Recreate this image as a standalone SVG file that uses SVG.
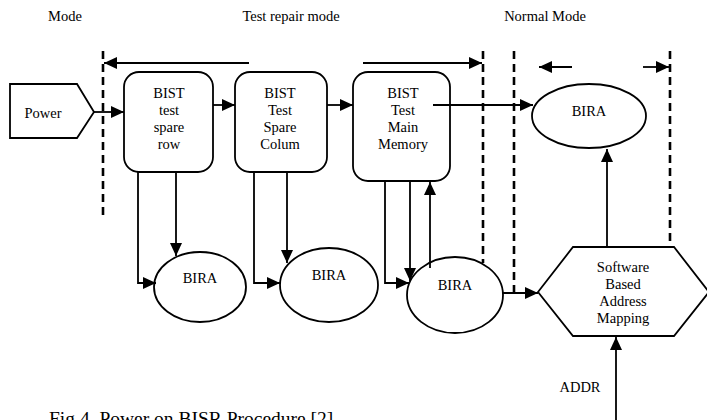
<svg xmlns="http://www.w3.org/2000/svg" width="707" height="420" viewBox="0 0 707 420" font-family="'Liberation Serif', 'Times New Roman', Times, serif">
<style>
text{font-family:"Liberation Serif","Times New Roman",Times,serif;font-size:14.5px;fill:#000;text-anchor:middle}
.s{fill:#fff;stroke:#000;stroke-width:1.8}
.c{fill:none;stroke:#000;stroke-width:1.8}
.d{fill:none;stroke:#000;stroke-width:2.6;stroke-dasharray:8 5}
</style>
<defs>
<marker id="a" markerUnits="userSpaceOnUse" markerWidth="14" markerHeight="12" refX="13" refY="6" orient="auto">
<path d="M0,0 L13,6 L0,12 z" fill="#000"/>
</marker>
</defs>
<rect width="707" height="420" fill="#fff"/>
<g id="labels">
<text x="65" y="21">Mode</text>
<text x="291" y="21">Test repair mode</text>
<text x="545" y="21">Normal Mode</text>
<text x="580" y="392">ADDR</text>
<text x="49" y="425" style="text-anchor:start;font-size:19.5px">Fig.4. Power on BISR Procedure [2]</text>
</g>
<g id="dividers">
<line class="d" x1="103" y1="51" x2="103" y2="217"/>
<line class="d" x1="483" y1="51" x2="483" y2="263"/>
<line class="d" x1="514" y1="51" x2="514" y2="297"/>
<line class="d" x1="670" y1="51" x2="670" y2="270"/>
</g>
<g id="power">
<polygon class="s" points="10,84 77,84 94,112 77,138 10,138"/>
<text x="43" y="118">Power</text>
</g>
<g id="bist1">
<rect class="s" x="124" y="72" width="89" height="100" rx="15"/>
<text x="169" y="98">BIST</text><text x="169" y="115">test</text><text x="169" y="132">spare</text><text x="169" y="149">row</text>
</g>
<g id="bist2">
<rect class="s" x="235" y="72" width="92" height="100" rx="15"/>
<text x="280" y="98">BIST</text><text x="280" y="115">Test</text><text x="280" y="132">Spare</text><text x="280" y="149">Colum</text>
</g>
<g id="bist3">
<rect class="s" x="353" y="72" width="97" height="109" rx="15"/>
<text x="403" y="98">BIST</text><text x="403" y="115">Test</text><text x="403" y="132">Main</text><text x="403" y="149">Memory</text>
</g>
<g id="bira-top">
<ellipse class="s" cx="589" cy="116" rx="57" ry="32"/>
<text x="589" y="116">BIRA</text>
</g>
<g id="bira1">
<ellipse class="s" cx="200" cy="287" rx="46" ry="35"/>
<text x="200" y="283">BIRA</text>
</g>
<g id="bira2">
<ellipse class="s" cx="329" cy="285" rx="49" ry="37"/>
<text x="329" y="280">BIRA</text>
</g>
<g id="bira3">
<ellipse class="s" cx="455" cy="295" rx="48" ry="38"/>
<text x="455" y="290">BIRA</text>
</g>
<g id="mapping">
<polygon class="s" points="538,292 573,247 674,247 709,292 674,336 573,336"/>
<text x="623" y="272">Software</text><text x="623" y="289">Based</text><text x="623" y="306">Address</text><text x="623" y="323">Mapping</text>
</g>
<g id="connectors">
<line class="c" x1="249" y1="63" x2="104" y2="63" marker-end="url(#a)"/>
<line class="c" x1="363" y1="63" x2="482" y2="63" marker-end="url(#a)"/>
<line class="c" x1="572" y1="67" x2="539" y2="67" marker-end="url(#a)"/>
<line class="c" x1="643" y1="67" x2="669" y2="67" marker-end="url(#a)"/>
<line class="c" x1="94" y1="112" x2="124" y2="112" marker-end="url(#a)"/>
<line class="c" x1="213" y1="105" x2="235" y2="105" marker-end="url(#a)"/>
<line class="c" x1="327" y1="105" x2="353" y2="105" marker-end="url(#a)"/>
<line class="c" x1="433" y1="105" x2="533" y2="105" marker-end="url(#a)"/>
<polyline class="c" points="138,172 138,283 156,283" marker-end="url(#a)"/>
<line class="c" x1="176" y1="172" x2="176" y2="256" marker-end="url(#a)"/>
<polyline class="c" points="254,172 254,283 280,283" marker-end="url(#a)"/>
<line class="c" x1="287" y1="172" x2="287" y2="263" marker-end="url(#a)"/>
<polyline class="c" points="385,181 385,283 409,283" marker-end="url(#a)"/>
<line class="c" x1="410" y1="181" x2="410" y2="281" marker-end="url(#a)"/>
<line class="c" x1="430" y1="268" x2="430" y2="182" marker-end="url(#a)"/>
<line class="c" x1="503" y1="293" x2="538" y2="293" marker-end="url(#a)"/>
<line class="c" x1="607" y1="247" x2="607" y2="149" marker-end="url(#a)"/>
<line class="c" x1="616" y1="420" x2="616" y2="337" marker-end="url(#a)"/>
</g>
</svg>
